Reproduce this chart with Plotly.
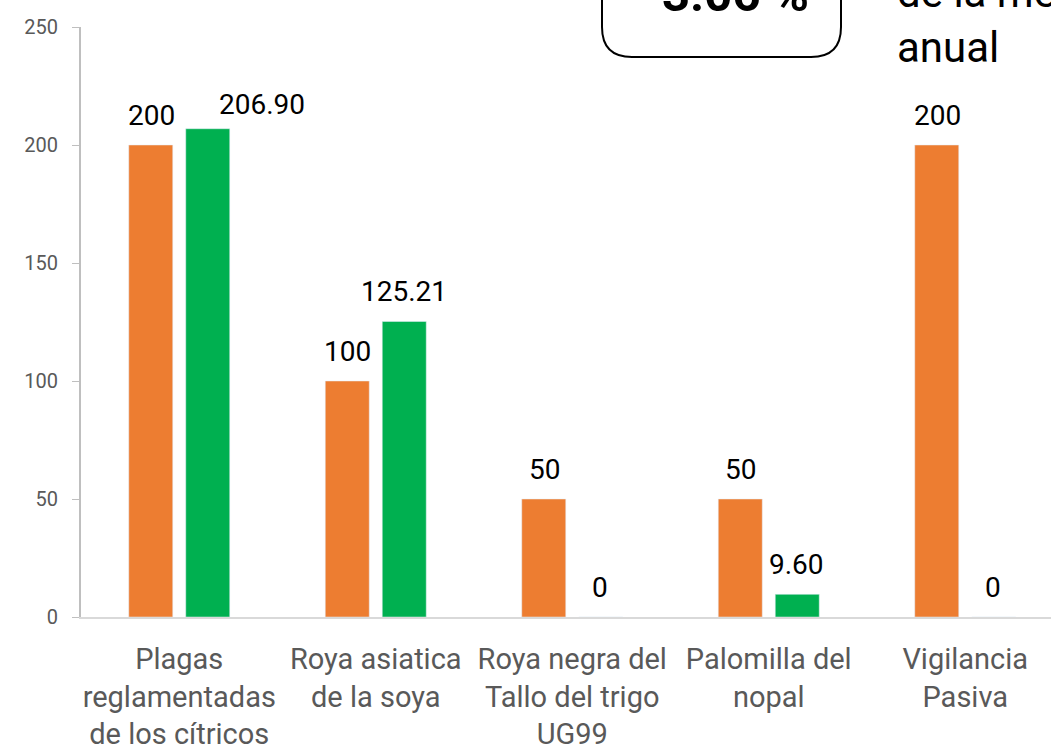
import plotly.graph_objects as go

categories = [
    "Plagas<br>reglamentadas<br>de los cítricos",
    "Roya asiatica<br>de la soya",
    "Roya negra del<br>Tallo del trigo<br>UG99",
    "Palomilla del<br>nopal",
    "Vigilancia<br>Pasiva",
]
meta = [200, 100, 50, 50, 200]
avance = [206.90, 125.21, 0, 9.60, 0]
meta_labels = ["200", "100", "50", "50", "200"]
avance_labels = ["206.90", "125.21", "0", "9.60", "0"]
y_ticks = [0, 50, 100, 150, 200, 250]

W, H = 1051, 748
ML, MR, MT, MB = 81, 0, 27, 131
PW, PH = W - ML - MR, H - MT - MB
CAT_PX = 196.5

def px_x(px):
    return (px - ML) / PW

def px_y(py):
    return (H - MB - py) / PH

ORANGE = "#ED7D31"
GREEN = "#00B050"
FONT = "Roboto"

fig = go.Figure()
fig.add_trace(go.Bar(x=categories, y=meta, marker_color=ORANGE, name="Meta"))
fig.add_trace(go.Bar(x=categories, y=avance, marker_color=GREEN, name="Avance"))

annotations = []
green_extra = [55, 0, 0, 0, 0]
for i, c in enumerate(categories):
    annotations.append(dict(x=c, y=meta[i], xref="x", yref="y", text=meta_labels[i],
                            showarrow=False, xshift=-28, yshift=30, yanchor="middle",
                            font=dict(family=FONT, size=28, color="#000000")))
    annotations.append(dict(x=c, y=avance[i], xref="x", yref="y", text=avance_labels[i],
                            showarrow=False, xshift=28 + green_extra[i],
                            yshift=30 if i != 0 else 24, yanchor="middle",
                            font=dict(family=FONT, size=28, color="#000000")))

annotations.append(dict(x=px_x(735), y=px_y(25), xref="paper", yref="paper",
                        text="<b>3.06 %</b>", showarrow=False, xanchor="center",
                        yanchor="bottom", font=dict(family=FONT, size=49, color="#000000")))
annotations.append(dict(x=px_x(895), y=px_y(74), xref="paper", yref="paper",
                        text="de la meta<br>anual", showarrow=False, xanchor="left",
                        yanchor="bottom", align="left",
                        font=dict(family=FONT, size=42, color="#000000")))

L, R, B, T, RAD = 602, 841, 57, -20, 30
path = (f"M {px_x(L)},{px_y(T)} L {px_x(L)},{px_y(B - RAD)} "
        f"Q {px_x(L)},{px_y(B)} {px_x(L + RAD)},{px_y(B)} "
        f"L {px_x(R - RAD)},{px_y(B)} "
        f"Q {px_x(R)},{px_y(B)} {px_x(R)},{px_y(B - RAD)} "
        f"L {px_x(R)},{px_y(T)}")

fig.update_layout(
    width=W, height=H,
    margin=dict(l=ML, r=MR, t=MT, b=MB, autoexpand=False),
    paper_bgcolor="white", plot_bgcolor="white",
    showlegend=False,
    barmode="group", bargap=0.42, bargroupgap=0.228,
    annotations=annotations,
    shapes=[dict(type="path", path=path, xref="paper", yref="paper",
                 line=dict(color="#000000", width=2))],
    xaxis=dict(range=[-0.5, PW / CAT_PX - 0.5], showline=True, linecolor="#D9D9D9",
               linewidth=2, ticks="", showgrid=False, zeroline=False, automargin=False,
               tickfont=dict(family=FONT, size=29, color="#595959"),
               ticklabelstandoff=15),
    yaxis=dict(range=[0, 250], tickvals=y_ticks, showline=True, linecolor="#BFBFBF",
               linewidth=2, ticks="outside", ticklen=7, tickcolor="#BFBFBF",
               showgrid=False, zeroline=False, automargin=False,
               tickfont=dict(family=FONT, size=20, color="#595959"),
               ticklabelstandoff=10),
)

fig.write_html("out.html", config={"displayModeBar": False},
               post_script="document.body.style.margin='0';document.body.style.overflow='hidden';")
